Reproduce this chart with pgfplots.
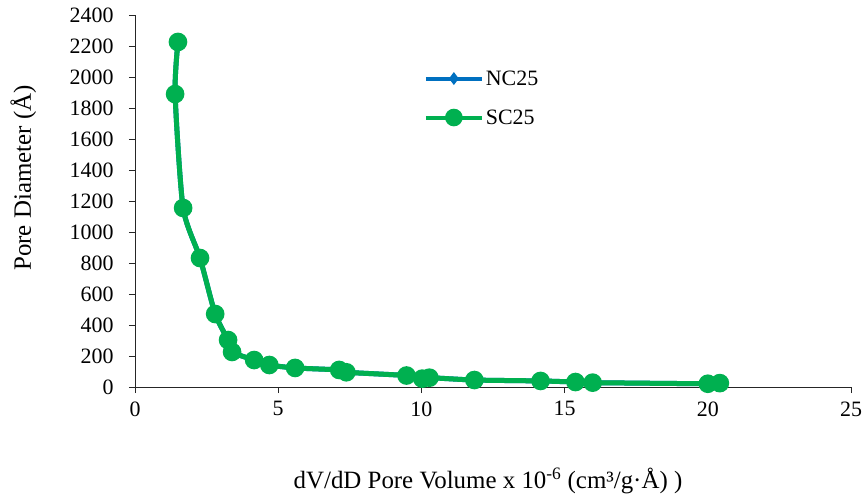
\documentclass[border=0pt]{standalone}
\usepackage{fontspec}
\setmainfont{Liberation Serif}
\usepackage{pgfplots}
\pgfplotsset{compat=1.18}
\definecolor{ncblue}{HTML}{0070C0}
\definecolor{scgreen}{HTML}{00B050}

\pgfplotstableread{
x y
1.50 2226
1.40 1890
1.68 1155
2.27 832
2.80 471
3.25 303
3.39 226
4.16 174
4.69 142
5.59 123
7.13 110
7.38 95
9.48 74
10.03 54
10.28 60
11.85 45
14.16 39
15.38 32
15.98 28
20.00 21
20.42 25
}\sctable

\begin{document}
\begin{tikzpicture}
\begin{axis}[
  name=ax,
  scale only axis,
  width=716bp, height=372bp,
  xmin=0, xmax=25, ymin=0, ymax=2400,
  xtick={0,5,...,25}, ytick={0,200,...,2400},
  axis lines*=left,
  axis line style={line width=1pt, black!85},
  tick style={black!85, line width=0.8pt},
  tick align=outside,
  major tick length=6bp,
  font=\fontsize{22}{26}\selectfont,
  /pgf/number format/assume math mode=true,
  /pgf/number format/1000 sep={},
  xticklabel style={yshift=-5bp},
  yticklabel style={xshift=-12bp},
  xlabel={dV/dD Pore Volume x 10\textsuperscript{-6} (cm³/g·Å) )},
  ylabel={Pore Diameter (Å)},
  label style={font=\fontsize{25}{30}\selectfont},
  xlabel style={at={(axis description cs:0.493,-0.253)}, anchor=center},
  ylabel style={at={(axis description cs:-0.156,0.562)}, anchor=center},
  legend style={draw=none, fill=none, at={(0.399,0.862)}, anchor=north west,
    font=\fontsize{22}{26}\selectfont, row sep=19bp},
  legend cell align=left,
  legend image code/.code={
    \draw[#1, line width=4bp, mark repeat=2, mark phase=2]
      plot coordinates {(0bp,0bp) (28bp,0bp) (56bp,0bp)};
  },
]
\addplot[ncblue, line width=5bp, smooth, tension=0.4, mark=diamond*,
  mark options={scale=1.6, solid}] table[x=x, y=y] {\sctable};
\addlegendentry{NC25}
\addplot[scgreen, line width=5bp, smooth, tension=0.4, mark=*,
  mark size=6.8bp] table[x=x, y=y] {\sctable};
\addlegendentry{SC25}
\end{axis}
\pgfresetboundingbox
\path[use as bounding box] ([xshift=-135bp,yshift=-112bp]ax.south west)
  rectangle ([xshift=15bp,yshift=15bp]ax.north east);
\end{tikzpicture}
\end{document}
